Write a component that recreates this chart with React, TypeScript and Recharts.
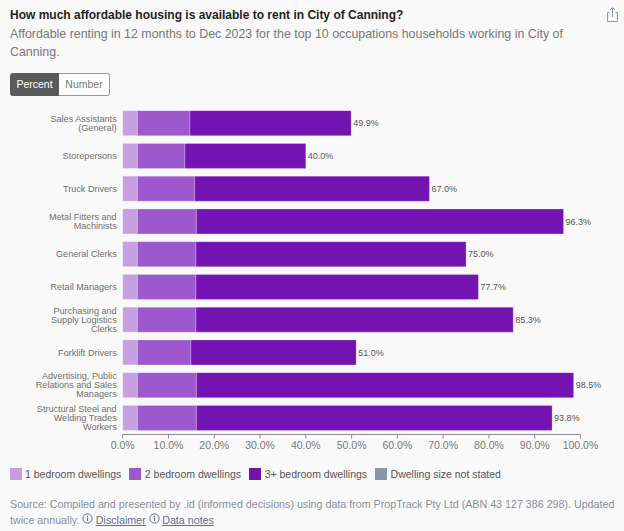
import { BarChart, Bar, XAxis, YAxis, Legend, LabelList } from "recharts";

const occupations = [
  "Sales Assistants (General)",
  "Storepersons",
  "Truck Drivers",
  "Metal Fitters and Machinists",
  "General Clerks",
  "Retail Managers",
  "Purchasing and Supply Logistics Clerks",
  "Forklift Drivers",
  "Advertising, Public Relations and Sales Managers",
  "Structural Steel and Welding Trades Workers",
];
const oneBed = [3.2, 3.2, 3.2, 3.2, 3.2, 3.2, 3.2, 3.2, 3.2, 3.2];
const twoBed = [11.5, 10.4, 12.5, 12.9, 12.8, 12.8, 12.8, 11.7, 12.9, 12.9];
const threeBed = [35.2, 26.4, 51.3, 80.2, 59.0, 61.7, 69.3, 36.1, 82.4, 77.7];
const notStated = [0, 0, 0, 0, 0, 0, 0, 0, 0, 0];
const totals = [49.9, 40.0, 67.0, 96.3, 75.0, 77.7, 85.3, 51.0, 98.5, 93.8];
const xTicks = [0, 10, 20, 30, 40, 50, 60, 70, 80, 90, 100];

const data = occupations.map((name, i) => ({
  name,
  oneBed: oneBed[i],
  twoBed: twoBed[i],
  threeBed: threeBed[i],
  notStated: notStated[i],
  total: totals[i],
}));

const FONT = '"Liberation Sans", Arial, sans-serif';

const wrapLabel = (text: string) => {
  const lines: string[] = [];
  let cur = "";
  text.split(" ").forEach((w) => {
    const next = cur ? cur + " " + w : w;
    if (next.length > 20) {
      lines.push(cur);
      cur = w;
    } else cur = next;
  });
  lines.push(cur);
  return lines;
};

const OccupationTick = ({ x, y, payload }: any) => {
  const lines = wrapLabel(payload.value);
  const start = -((lines.length - 1) * 9) / 2;
  return (
    <text x={x} y={y} textAnchor="end" fontSize={9.1} fill="#6f6f6f" fontFamily={FONT}>
      {lines.map((l, i) => (
        <tspan key={l} x={x} y={y + start + i * 9 + 3}>
          {l}
        </tspan>
      ))}
    </text>
  );
};

const LegendRow = ({ payload }: any) => (
  <div style={{ display: "flex", paddingLeft: 9.5, height: 20, alignItems: "center", fontFamily: FONT, fontSize: 10.5, color: "#555" }}>
    {(payload || []).map((p: any) => (
      <div key={p.value} style={{ display: "flex", alignItems: "center", marginRight: 8 }}>
        <span style={{ width: 12, height: 12, background: p.color, marginRight: 3.5 }} />
        {p.value}
      </div>
    ))}
  </div>
);

const InfoIcon = () => (
  <svg width="11" height="11" viewBox="0 0 10 10" style={{ margin: "0 2.5px 0 3px", verticalAlign: "-0.5px" }}>
    <circle cx="5" cy="5" r="4.2" fill="none" stroke="#5f6f90" strokeWidth="0.9" />
    <rect x="4.5" y="4.2" width="1" height="3.2" fill="#5f6f90" />
    <rect x="4.5" y="2.5" width="1" height="1" fill="#5f6f90" />
  </svg>
);

export default function App() {
  return (
    <div style={{ position: "absolute", left: 0, top: 0, width: 624, height: 531, background: "#f9f9f9", fontFamily: FONT, overflow: "hidden" }}>
      <div style={{ position: "absolute", left: 10, top: 8, fontSize: 12, fontWeight: "bold", color: "#222", whiteSpace: "nowrap" }}>
        How much affordable housing is available to rent in City of Canning?
      </div>
      <div style={{ position: "absolute", left: 10, top: 25, width: 560, fontSize: 12.4, lineHeight: "18px", color: "#777" }}>
        Affordable renting in 12 months to Dec 2023 for the top 10 occupations households working in City of Canning.
      </div>
      <svg width="14" height="17" viewBox="0 0 14 17" style={{ position: "absolute", left: 606, top: 6 }}>
        <path d="M3.5 6.5H1.5V15.5H11.5V6.5H9.5M6.5 11V1.5M4 4L6.5 1.5L9 4" fill="none" stroke="#8a9bb0" strokeWidth="1" />
      </svg>
      <div style={{ position: "absolute", left: 10, top: 73, display: "flex", height: 23, fontSize: 10.5, lineHeight: "23px" }}>
        <div style={{ width: 49, textAlign: "center", background: "#5a5a5a", color: "#fff", borderRadius: "3px 0 0 3px" }}>Percent</div>
        <div style={{ width: 50, textAlign: "center", background: "#fff", color: "#777", border: "1px solid #999", borderLeft: "none", borderRadius: "0 3px 3px 0", height: 21, lineHeight: "21px" }}>Number</div>
      </div>

      <div style={{ position: "absolute", left: 0, top: 0 }}>
        <BarChart
          width={624}
          height={484}
          data={data}
          layout="vertical"
          barCategoryGap={3.65}
          margin={{ top: 107, right: 43.5, bottom: 0, left: 0 }}
        >
          <XAxis
            type="number"
            domain={[0, 100]}
            ticks={xTicks}
            interval={0}
            height={29.5}
            tickSize={4}
            tickMargin={3}
            tickFormatter={(v: number) => v.toFixed(1) + "%"}
            tick={{ fill: "#777", fontSize: 10.5, fontFamily: FONT }}
            axisLine={{ stroke: "#8c8c8c" }}
            tickLine={{ stroke: "#8c8c8c" }}
          />
          <YAxis
            type="category"
            dataKey="name"
            width={122.7}
            interval={0}
            axisLine={false}
            tickLine={false}
            tickMargin={0}
            tickSize={6}
            tick={<OccupationTick />}
          />
          <Legend content={<LegendRow />} />
          <Bar dataKey="oneBed" name="1 bedroom dwellings" stackId="a" fill="#c69fe0" stroke="#fff" strokeOpacity={0.25} isAnimationActive={false} />
          <Bar dataKey="twoBed" name="2 bedroom dwellings" stackId="a" fill="#9c58cc" stroke="#fff" strokeOpacity={0.25} isAnimationActive={false} />
          <Bar dataKey="threeBed" name="3+ bedroom dwellings" stackId="a" fill="#7213b2" stroke="#fff" strokeOpacity={0.25} isAnimationActive={false}>
            <LabelList
              dataKey="total"
              position="right"
              offset={2}
              formatter={(v: number) => v.toFixed(1) + "%"}
              style={{ fill: "#555", fontSize: 9, fontFamily: FONT }}
            />
          </Bar>
          <Bar dataKey="notStated" name="Dwelling size not stated" stackId="a" fill="#8a94a6" isAnimationActive={false} />
        </BarChart>
      </div>

      <div style={{ position: "absolute", left: 10, top: 497, width: 612, fontSize: 10.7, lineHeight: "15.5px", color: "#8a8f99" }}>
        Source: Compiled and presented by .id (informed decisions) using data from PropTrack Pty Ltd (ABN 43 127 386 298). Updated twice annually.
        <InfoIcon />
        <span style={{ color: "#5f6f90", textDecoration: "underline" }}>Disclaimer</span>
        <InfoIcon />
        <span style={{ color: "#5f6f90", textDecoration: "underline" }}>Data notes</span>
      </div>
    </div>
  );
}
